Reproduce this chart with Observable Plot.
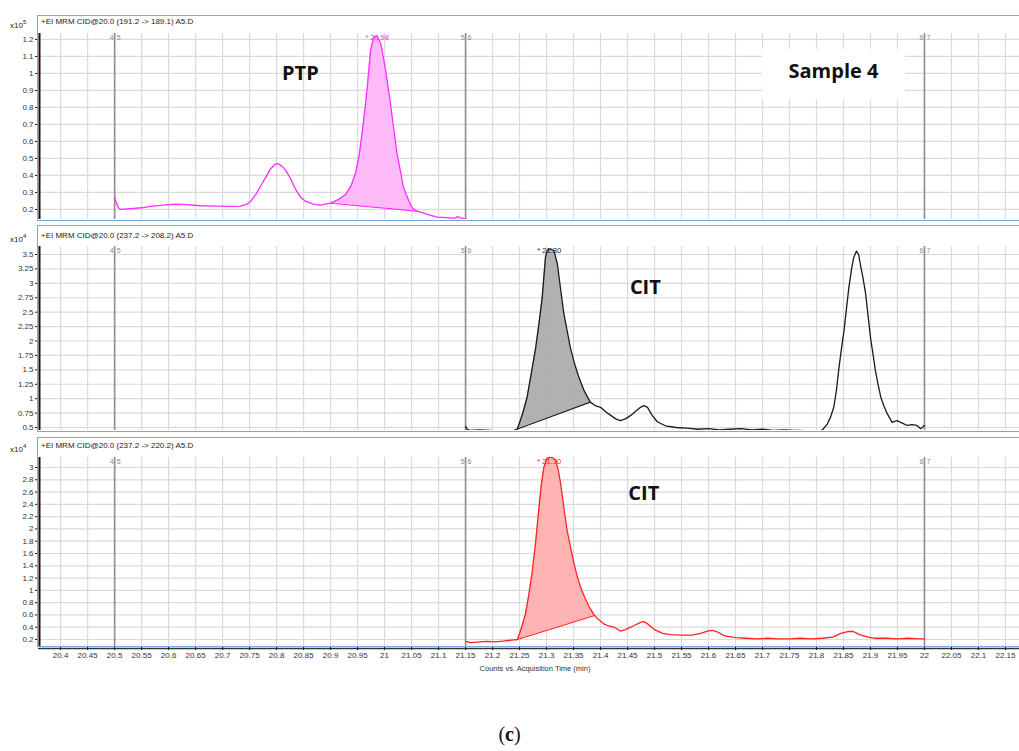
<!DOCTYPE html>
<html><head><meta charset="utf-8">
<script src="https://cdn.jsdelivr.net/npm/d3@7"></script>
<script src="https://cdn.jsdelivr.net/npm/@observablehq/plot@0.6"></script>
<style>
body{margin:0;background:#fff;}
#root{position:relative;width:1019px;height:751px;overflow:hidden;font-family:"Liberation Sans",Arial,sans-serif;background:#fff;}
.plotbox{position:absolute;left:0;z-index:1;}
.frame{position:absolute;left:37px;width:990px;border:1.5px solid #7ea7e2;border-right:none;pointer-events:none;z-index:2;box-sizing:border-box;}
.title{position:absolute;left:41px;font-size:8px;color:#222;z-index:3;white-space:nowrap;line-height:9px;}
.exp{position:absolute;left:10px;font-size:8px;color:#222;z-index:3;line-height:9px;}
.exp sup{font-size:6px;}
.sample{position:absolute;left:762px;top:49px;width:143px;height:50px;background:#fff;z-index:3;font-family:"Open Sans",sans-serif;font-weight:700;font-size:20px;color:#111;text-align:center;line-height:44px;}
.xlabel{position:absolute;left:435px;width:200px;top:665px;font-size:7.5px;line-height:8px;color:#333;text-align:center;z-index:3;}
.caption{position:absolute;left:0;width:1019px;top:723px;text-align:center;font-family:"Liberation Serif",serif;font-size:20px;color:#111;}
</style></head><body><div id="root"></div>
<script>
// ---------- data ----------
const xTickLabels = ["20.4","20.45","20.5","20.55","20.6","20.65","20.7","20.75","20.8","20.85","20.9","20.95","21","21.05","21.1","21.15","21.2","21.25","21.3","21.35","21.4","21.45","21.5","21.55","21.6","21.65","21.7","21.75","21.8","21.85","21.9","21.95","22","22.05","22.1","22.15"];
const segmentTimes = [20.5, 21.15, 22.0];
const segmentLeft = ["4", "5", "6"];
const segmentRight = ["5", "6", "7"];

const panelTitles = ["+EI MRM CID@20.0 (191.2 -> 189.1) A5.D", "+EI MRM CID@20.0 (237.2 -> 208.2) A5.D", "+EI MRM CID@20.0 (237.2 -> 220.2) A5.D"];
const panelExponents = ["5", "4", "4"];

const ptpYTickLabels = ["0.2","0.3","0.4","0.5","0.6","0.7","0.8","0.9","1","1.1","1.2"];
const cit1YTickLabels = ["0.5","0.75","1","1.25","1.5","1.75","2","2.25","2.5","2.75","3","3.25","3.5"];
const cit2YTickLabels = ["0.2","0.4","0.6","0.8","1","1.2","1.4","1.6","1.8","2","2.2","2.4","2.6","2.8","3"];

// [time (min), counts]
const ptpTrace = [[20.5,0.27],[20.503,0.24],[20.507,0.21],[20.511,0.2],[20.53,0.205],[20.55,0.21],[20.567,0.218],[20.59,0.225],[20.613,0.232],[20.635,0.228],[20.659,0.222],[20.69,0.22],[20.715,0.218],[20.733,0.22],[20.745,0.232],[20.752,0.247],[20.762,0.29],[20.77,0.335],[20.78,0.39],[20.789,0.44],[20.797,0.465],[20.802,0.47],[20.81,0.455],[20.817,0.43],[20.826,0.38],[20.835,0.32],[20.845,0.27],[20.854,0.247],[20.868,0.232],[20.881,0.226],[20.9,0.237],[20.915,0.26],[20.928,0.288],[20.938,0.34],[20.946,0.41],[20.953,0.52],[20.959,0.665],[20.964,0.8],[20.968,0.92],[20.974,1.135],[20.98,1.213],[20.986,1.22],[20.993,1.176],[21.002,1.018],[21.011,0.82],[21.023,0.53],[21.035,0.33],[21.045,0.25],[21.051,0.21],[21.06,0.19],[21.067,0.184],[21.085,0.165],[21.098,0.155],[21.115,0.152],[21.13,0.148],[21.135,0.158],[21.14,0.15],[21.15,0.145]];
const ptpBaseline = [[20.9,0.237],[21.06,0.19]];

const cit1Trace = [[21.15,0.52],[21.152,0.478],[21.159,0.448],[21.175,0.46],[21.196,0.45],[21.21,0.44],[21.227,0.42],[21.238,0.44],[21.246,0.475],[21.255,0.72],[21.264,1.025],[21.272,1.45],[21.28,1.89],[21.286,2.3],[21.292,2.76],[21.298,3.45],[21.301,3.57],[21.307,3.6],[21.3135,3.57],[21.32,3.34],[21.326,2.9],[21.332,2.48],[21.344,1.89],[21.352,1.6],[21.36,1.37],[21.37,1.13],[21.381,0.94],[21.39,0.88],[21.4,0.85],[21.41,0.77],[21.419,0.71],[21.428,0.65],[21.437,0.62],[21.446,0.65],[21.456,0.71],[21.465,0.78],[21.474,0.85],[21.48,0.88],[21.487,0.85],[21.495,0.72],[21.505,0.6],[21.52,0.53],[21.54,0.5],[21.56,0.49],[21.58,0.47],[21.6,0.48],[21.62,0.46],[21.64,0.47],[21.66,0.48],[21.68,0.46],[21.7,0.47],[21.72,0.45],[21.74,0.46],[21.76,0.45],[21.77,0.448],[21.785,0.44],[21.797,0.43],[21.804,0.42],[21.812,0.47],[21.82,0.56],[21.826,0.68],[21.832,0.85],[21.837,1.15],[21.841,1.49],[21.846,1.85],[21.851,2.18],[21.856,2.6],[21.86,2.93],[21.865,3.25],[21.869,3.45],[21.874,3.56],[21.878,3.5],[21.881,3.34],[21.886,3.1],[21.891,2.82],[21.9,2.06],[21.905,1.75],[21.909,1.49],[21.914,1.25],[21.919,1.03],[21.925,0.87],[21.931,0.74],[21.94,0.59],[21.949,0.62],[21.958,0.58],[21.968,0.535],[21.977,0.55],[21.986,0.535],[21.993,0.48],[22.0,0.535]];
const cit1Baseline = [[21.246,0.475],[21.381,0.94]];

const cit2Trace = [[21.15,0.17],[21.16,0.15],[21.175,0.16],[21.19,0.17],[21.205,0.16],[21.22,0.175],[21.235,0.19],[21.246,0.2],[21.254,0.4],[21.261,0.62],[21.267,0.92],[21.273,1.27],[21.28,1.8],[21.286,2.35],[21.29,2.7],[21.295,3.0],[21.301,3.15],[21.31,3.17],[21.317,3.12],[21.322,2.95],[21.326,2.74],[21.332,2.35],[21.338,1.98],[21.345,1.68],[21.351,1.43],[21.357,1.22],[21.363,1.05],[21.371,0.88],[21.379,0.73],[21.389,0.59],[21.397,0.52],[21.406,0.455],[21.415,0.42],[21.425,0.4],[21.431,0.37],[21.437,0.335],[21.446,0.36],[21.456,0.4],[21.465,0.44],[21.474,0.48],[21.48,0.49],[21.488,0.45],[21.5,0.36],[21.515,0.3],[21.53,0.28],[21.55,0.27],[21.57,0.27],[21.585,0.3],[21.6,0.34],[21.607,0.35],[21.615,0.33],[21.63,0.26],[21.65,0.23],[21.67,0.22],[21.69,0.21],[21.71,0.22],[21.73,0.21],[21.75,0.21],[21.77,0.22],[21.79,0.21],[21.81,0.22],[21.83,0.24],[21.845,0.3],[21.858,0.33],[21.868,0.33],[21.88,0.28],[21.895,0.24],[21.91,0.22],[21.93,0.22],[21.95,0.21],[21.97,0.22],[21.99,0.21],[22.0,0.21]];
const cit2Baseline = [[21.246,0.2],[21.389,0.59]];

const peakLabels = ["* 20.98", "* 21.30", "* 21.30"];
const peakTimes = [20.986, 21.305, 21.305];
const noteLabels = ["PTP", "CIT", "CIT"];
const noteTimes = [20.844, 21.483, 21.48];
const noteValues = [1.0, 2.93, 2.58];
const sampleLabel = "Sample 4";
const xAxisLabel = "Counts vs. Acquisition Time (min)";

// ---------- layout ----------
const xTickValues = xTickLabels.map(Number);
const xDomain = [20.359, 22.176];
const W = 1019;
const root = document.getElementById("root");

const panels = [
  {trace: ptpTrace, baseline: ptpBaseline, yLabels: ptpYTickLabels, yDomain: [0.141, 1.235], stroke: "#ff2bff", fill: "#ffb3fa",
   top: 0, height: 222, marginTop: 33, marginBottom: 3, frameTop: 15, frameBottom: 221, titleTop: 17, showX: false},
  {trace: cit1Trace, baseline: cit1Baseline, yLabels: cit1YTickLabels, yDomain: [0.448, 3.639], stroke: "#1a1a1a", fill: "#a8a8a8",
   top: 222, height: 210, marginTop: 24, marginBottom: 2, frameTop: 225, frameBottom: 432, titleTop: 231, showX: false},
  {trace: cit2Trace, baseline: cit2Baseline, yLabels: cit2YTickLabels, yDomain: [0.086, 3.163], stroke: "#ff2222", fill: "#ffabab",
   top: 432, height: 240, marginTop: 25, marginBottom: 26, frameTop: 437, frameBottom: 647, titleTop: 441, showX: true}
];

panels.forEach((p, k) => {
  const yT = p.yLabels.map(Number);
  const [b0, b1] = p.baseline;
  const interp = t => b0[1] + (b1[1] - b0[1]) * (t - b0[0]) / (b1[0] - b0[0]);
  const shade = p.trace.filter(d => d[0] >= b0[0] && d[0] <= b1[0]).map(d => ({t: d[0], v: d[1], b: interp(d[0])}));
  const marks = [
    Plot.ruleX(xTickValues, {x: d => d, stroke: "#dadada", strokeWidth: 1.2}),
    Plot.ruleY(yT, {y: d => d, stroke: "#dadada", strokeWidth: 1.2}),
    Plot.ruleX(segmentTimes, {x: d => d, stroke: "#8e8e8e", strokeWidth: 1.6}),
    Plot.text(segmentTimes, {x: d => d, text: (d, i) => segmentLeft[i], frameAnchor: "top", lineAnchor: "top", textAnchor: "end", dx: -1, dy: 2, fill: "#8a8a8a", fontSize: 7}),
    Plot.text(segmentTimes, {x: d => d, text: (d, i) => segmentRight[i], frameAnchor: "top", lineAnchor: "top", textAnchor: "start", dx: 2, dy: 2, fill: "#8a8a8a", fontSize: 7}),
    Plot.areaY(shade, {x: "t", y1: "b", y2: "v", fill: p.fill, fillOpacity: 0.9}),
    Plot.line(p.baseline, {x: d => d[0], y: d => d[1], stroke: p.stroke, strokeWidth: 1.1}),
    Plot.line(p.trace, {x: d => d[0], y: d => d[1], stroke: p.stroke, strokeWidth: 1.3, clip: true}),
    Plot.text([peakLabels[k]], {x: () => peakTimes[k], text: d => d, frameAnchor: "top", lineAnchor: "top", dy: 1, fill: p.stroke, fontSize: 7.5}),
    Plot.text([noteLabels[k]], {x: () => noteTimes[k], y: () => noteValues[k], text: d => d, fontFamily: "Open Sans", fontWeight: 700, fontSize: 20, fill: "#111"}),
    Plot.ruleX([xDomain[0]], {x: d => d, stroke: "#111", strokeWidth: 2, dx: 1}),
    Plot.axisY(yT, {tickFormat: d => p.yLabels[yT.indexOf(d)], tickSize: 3, tickPadding: 2, fontSize: 8, fontFamily: "Liberation Sans", fill: "#333", stroke: "#111", label: null})
  ];
  if (p.showX) {
    marks.push(Plot.ruleY([p.yDomain[0]], {y: d => d, stroke: "#333", strokeWidth: 1.5, dy: 2}));
    marks.push(Plot.axisX(xTickValues, {tickFormat: d => xTickLabels[xTickValues.indexOf(d)], tickSize: 4, tickPadding: 2, fontSize: 8, fontFamily: "Liberation Sans", fill: "#333", stroke: "#111", label: null}));
  }
  const svg = Plot.plot({
    width: W, height: p.height,
    marginLeft: 38, marginRight: 0, marginTop: p.marginTop, marginBottom: p.marginBottom,
    style: {background: "transparent", fontFamily: "Liberation Sans"},
    x: {domain: xDomain, axis: null, label: null},
    y: {domain: p.yDomain, axis: null, label: null},
    marks
  });
  const box = document.createElement("div");
  box.className = "plotbox"; box.style.top = p.top + "px";
  box.appendChild(svg); root.appendChild(box);

  const fr = document.createElement("div");
  fr.className = "frame"; fr.style.top = p.frameTop + "px"; fr.style.height = (p.frameBottom - p.frameTop) + "px";
  root.appendChild(fr);

  const tt = document.createElement("div");
  tt.className = "title"; tt.style.top = p.titleTop + "px"; tt.textContent = panelTitles[k];
  root.appendChild(tt);

  const ex = document.createElement("div");
  ex.className = "exp"; ex.style.top = (p.titleTop + 1) + "px"; ex.innerHTML = "x10<sup>" + panelExponents[k] + "</sup>";
  root.appendChild(ex);
});

const s4 = document.createElement("div"); s4.className = "sample"; s4.textContent = sampleLabel; root.appendChild(s4);
const xl = document.createElement("div"); xl.className = "xlabel"; xl.textContent = xAxisLabel; root.appendChild(xl);
const cap = document.createElement("div"); cap.className = "caption"; cap.innerHTML = "(<b>c</b>)"; root.appendChild(cap);
</script></body></html>
